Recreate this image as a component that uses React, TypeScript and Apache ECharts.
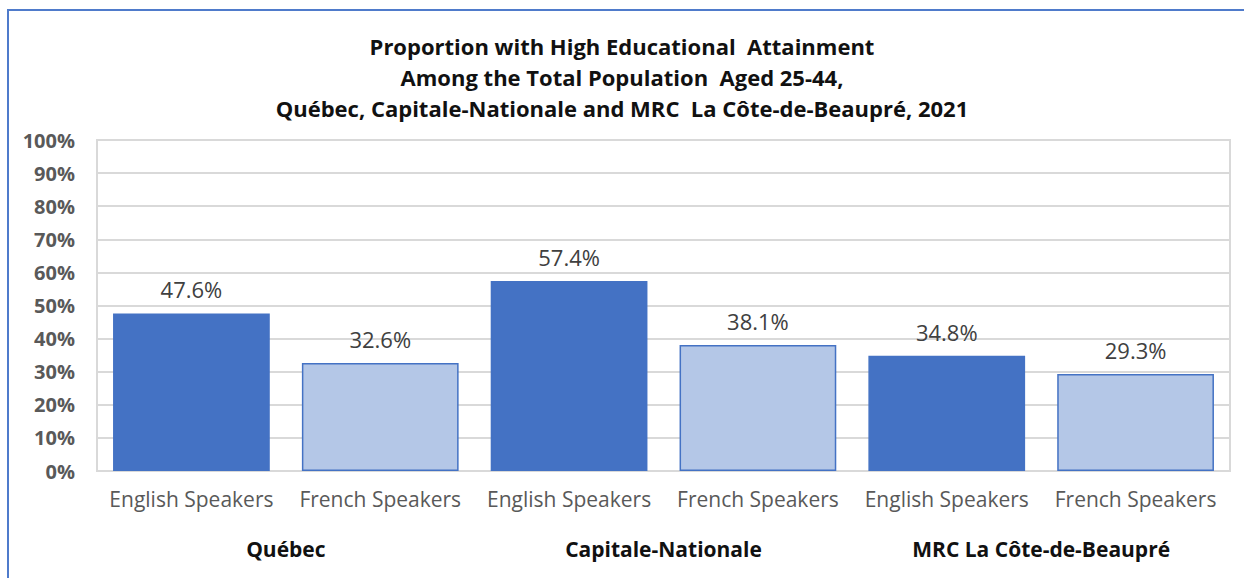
import React, { useEffect, useRef } from "react";
import * as echarts from "echarts";

const titleLines = [
  "Proportion with High Educational  Attainment",
  "Among the Total Population  Aged 25-44,",
  "Québec, Capitale-Nationale and MRC  La Côte-de-Beaupré, 2021",
];
const categories = [
  "English Speakers",
  "French Speakers",
  "English Speakers",
  "French Speakers",
  "English Speakers",
  "French Speakers",
];
const groups = ["Québec", "Capitale-Nationale", "MRC La Côte-de-Beaupré"];
const values = [47.6, 32.6, 57.4, 38.1, 34.8, 29.3];
const barColors = ["#4472C4", "#B4C7E7", "#4472C4", "#B4C7E7", "#4472C4", "#B4C7E7"];
const yTicks = [0, 10, 20, 30, 40, 50, 60, 70, 80, 90, 100];

const FONT = "'Open Sans', 'Noto Sans', sans-serif";

export default function App() {
  const ref = useRef<HTMLDivElement>(null);
  useEffect(() => {
    if (!ref.current) return;
    const chart = echarts.init(ref.current, undefined, { renderer: "svg" });
    chart.setOption({
      animation: false,
      backgroundColor: "#ffffff",
      textStyle: { fontFamily: FONT },
      title: {
        text: titleLines.join("\n"),
        left: "center",
        top: 25,
        textStyle: {
          fontFamily: FONT,
          fontSize: 22,
          fontWeight: "bold",
          color: "#111111",
          lineHeight: 31,
        },
      },
      graphic: [
        {
          type: "rect",
          shape: { x: 8, y: 10, width: 1260, height: 600 },
          style: { fill: "none", stroke: "#4F7BCB", lineWidth: 2 },
          silent: true,
        },
      ],
      grid: {
        left: 97,
        right: 14,
        top: 140,
        bottom: 107,
        show: true,
        borderColor: "#D9D9D9",
        borderWidth: 2,
      },
      xAxis: [
        {
          type: "category",
          data: categories,
          axisLine: { show: true, lineStyle: { color: "#D9D9D9", width: 2 } },
          axisTick: { show: false },
          axisLabel: {
            interval: 0,
            color: "#595959",
            fontFamily: FONT,
            fontSize: 21,
            margin: 17,
          },
        },
        {
          type: "category",
          data: groups,
          position: "bottom",
          axisLine: { show: false },
          axisTick: { show: false },
          axisLabel: {
            interval: 0,
            color: "#111111",
            fontFamily: FONT,
            fontSize: 21,
            fontWeight: "bold",
            margin: 67,
          },
        },
      ],
      yAxis: {
        type: "value",
        min: 0,
        max: 100,
        interval: 10,
        axisLine: { show: true, lineStyle: { color: "#D9D9D9", width: 2 } },
        axisTick: { show: false },
        splitLine: { show: true, lineStyle: { color: "#D9D9D9", width: 2 } },
        axisLabel: {
          color: "#595959",
          fontFamily: FONT,
          fontSize: 20,
          fontWeight: "bold",
          margin: 22,
          formatter: (v: number) => (yTicks.includes(v) ? `${v}%` : ""),
        },
      },
      series: [
        {
          type: "bar",
          xAxisIndex: 0,
          barCategoryGap: "17%",
          data: values.map((v, i) => ({
            value: v,
            itemStyle: {
              color: barColors[i],
              borderColor: "#4472C4",
              borderWidth: 1.5,
            },
          })),
          label: {
            show: true,
            position: "top",
            distance: 13,
            color: "#404040",
            fontFamily: FONT,
            fontSize: 22,
            formatter: (p: any) => `${p.value.toFixed(1)}%`,
          },
        },
      ],
    });
    return () => chart.dispose();
  }, []);
  return (
    <div
      ref={ref}
      style={{ position: "absolute", left: 0, top: 0, width: 1244, height: 578 }}
    />
  );
}
